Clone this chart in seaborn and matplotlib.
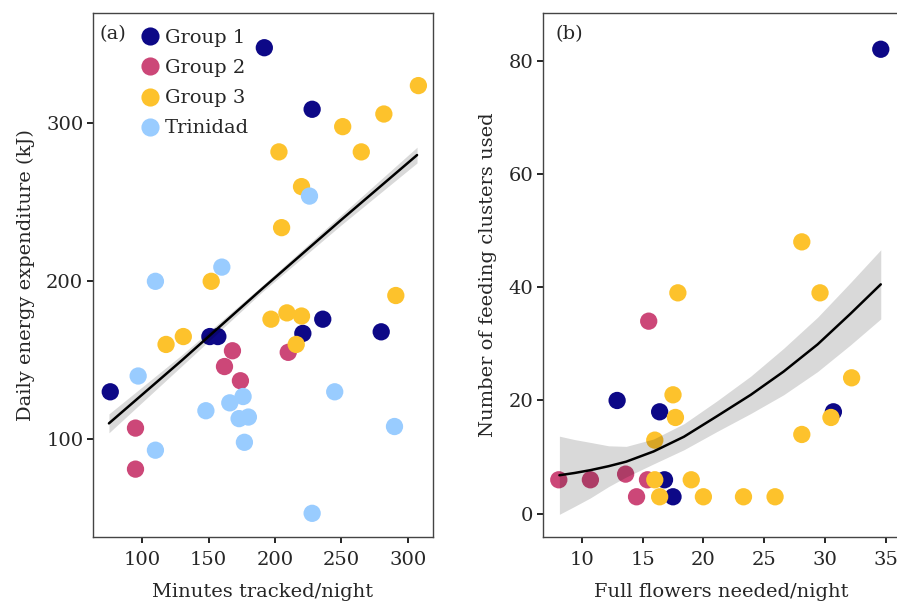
import numpy as np
import pandas as pd
import matplotlib
matplotlib.use("Agg")
import matplotlib.pyplot as plt
import seaborn as sns

sns.set_theme(style="ticks")
plt.rcParams["font.family"] = ["DejaVu Serif"]

groups = ["Group 1", "Group 2", "Group 3", "Trinidad"]
colors = {"Group 1": "#0d0887", "Group 2": "#cc4778",
          "Group 3": "#fdc22c", "Trinidad": "#99ccff"}

# Panel (a): minutes tracked/night vs daily energy expenditure (kJ)
a_g1_x = [76, 192, 228, 151, 157, 236, 221, 280]
a_g1_y = [130, 348, 309, 165, 165, 176, 167, 168]
a_g2_x = [95, 95, 168, 162, 174, 210]
a_g2_y = [107, 81, 156, 146, 137, 155]
a_g3_x = [308, 282, 251, 203, 265, 220, 205, 152, 291, 118, 131, 197, 209, 220, 216]
a_g3_y = [324, 306, 298, 282, 282, 260, 234, 200, 191, 160, 165, 176, 180, 178, 160]
a_tr_x = [110, 160, 226, 97, 148, 166, 176, 173, 180, 177, 110, 245, 290, 228]
a_tr_y = [200, 209, 254, 140, 118, 123, 127, 113, 114, 98, 93, 130, 108, 53]

# Panel (a) fitted model line and 95% band
fit_a_x = [75, 130, 190, 250, 307]
fit_a_y = [110, 150, 195, 239, 280]
fit_a_lo = [104, 146.5, 193, 235.8, 275]
fit_a_hi = [116, 153.5, 197, 242.2, 285]

# Panel (b): full flowers needed/night vs number of feeding clusters used
b_g1_x = [34.6, 12.9, 16.4, 30.7, 16.8, 17.5]
b_g1_y = [82, 20, 18, 18, 6, 3]
b_g2_x = [8.1, 10.7, 13.6, 15.5, 14.5, 15.4]
b_g2_y = [6, 6, 7, 34, 3, 6]
b_g3_x = [17.9, 29.6, 28.1, 32.2, 17.5, 17.7, 30.5, 28.1, 16.0, 16.0, 19.0, 16.4, 20.0, 23.3, 25.9]
b_g3_y = [39, 39, 48, 24, 21, 17, 17, 14, 13, 6, 6, 3, 3, 3, 3]

# Panel (b) fitted model curve and 95% band
fit_b_x = [8.15, 9.4, 10.7, 12.2, 13.65, 15.9, 18.4, 21.1, 23.9, 26.6, 29.4, 32.1, 34.6]
fit_b_y = [6.8, 7.2, 7.7, 8.4, 9.2, 11.0, 13.6, 17.2, 21.0, 25.1, 29.9, 35.3, 40.5]
fit_b_hw = [6.9, 5.9, 4.9, 3.6, 2.7, 2.2, 2.3, 2.7, 3.3, 4.1, 4.8, 5.5, 6.1]

def frame(parts):
    rows = []
    for g, xs, ys in parts:
        for x, y in zip(xs, ys):
            rows.append({"group": g, "x": x, "y": y})
    return pd.DataFrame(rows)

da = frame([("Group 1", a_g1_x, a_g1_y), ("Group 2", a_g2_x, a_g2_y),
            ("Group 3", a_g3_x, a_g3_y), ("Trinidad", a_tr_x, a_tr_y)])
db = frame([("Group 1", b_g1_x, b_g1_y), ("Group 2", b_g2_x, b_g2_y),
            ("Group 3", b_g3_x, b_g3_y)])
fa = pd.DataFrame({"x": fit_a_x, "y": fit_a_y, "lo": fit_a_lo, "hi": fit_a_hi})
fb = pd.DataFrame({"x": fit_b_x, "y": fit_b_y})
fb["lo"] = fb["y"] - np.array(fit_b_hw)
fb["hi"] = fb["y"] + np.array(fit_b_hw)

fig = plt.figure(figsize=(8.97, 6.02), dpi=100)
W, H = 897, 602
ax1 = fig.add_axes([93 / W, (H - 537) / H, 340 / W, 524 / H])
ax2 = fig.add_axes([543 / W, (H - 537) / H, 356 / W, 524 / H])

FS = 14
ms = 155

# (a)
sns.scatterplot(data=da, x="x", y="y", hue="group", hue_order=groups,
                palette=colors, s=ms, linewidth=0, ax=ax1, zorder=1)
ax1.fill_between(fa["x"], fa["lo"], fa["hi"], color="black", alpha=0.15,
                 linewidth=0, zorder=2)
sns.lineplot(data=fa, x="x", y="y", ax=ax1, color="black", linewidth=1.8,
             zorder=3)
ax1.set_xlim(63, 319)
ax1.set_ylim(38, 370)
ax1.set_xticks([100, 150, 200, 250, 300])
ax1.set_yticks([100, 200, 300])
ax1.set_xlabel("Minutes tracked/night", fontsize=FS, labelpad=10)
ax1.set_ylabel("Daily energy expenditure (kJ)", fontsize=FS, labelpad=8)
ax1.text(0.02, 0.977, "(a)", transform=ax1.transAxes, fontsize=FS,
         ha="left", va="top")
handles, labels = ax1.get_legend_handles_labels()
leg = ax1.legend(handles, labels, loc="upper left", bbox_to_anchor=(0.1, 0.995),
                 frameon=False, fontsize=FS, handletextpad=0.25,
                 handlelength=1.0, labelspacing=0.62, borderaxespad=0.3,
                 markerscale=1.05)

# (b)
sns.scatterplot(data=db, x="x", y="y", hue="group",
                hue_order=["Group 1", "Group 2", "Group 3"],
                palette=colors, s=ms, linewidth=0, ax=ax2, legend=False, zorder=1)
ax2.fill_between(fb["x"], fb["lo"], fb["hi"], color="black", alpha=0.15,
                 linewidth=0, zorder=2)
sns.lineplot(data=fb, x="x", y="y", ax=ax2, color="black", linewidth=1.8,
             zorder=3)
ax2.set_xlim(6.8, 36.1)
ax2.set_ylim(-4.1, 88.4)
ax2.set_xticks([10, 15, 20, 25, 30, 35])
ax2.set_yticks([0, 20, 40, 60, 80])
ax2.set_xlabel("Full flowers needed/night", fontsize=FS, labelpad=10)
ax2.set_ylabel("Number of feeding clusters used", fontsize=FS, labelpad=8)
ax2.text(0.035, 0.977, "(b)", transform=ax2.transAxes, fontsize=FS,
         ha="left", va="top")

for ax in (ax1, ax2):
    ax.tick_params(direction="out", length=4, width=1.2, labelsize=FS,
                   color="black")
    ax.tick_params(axis="x", pad=6)
    ax.tick_params(axis="y", pad=3)
    for sp in ax.spines.values():
        sp.set_visible(True)
        sp.set_linewidth(1.0)
        sp.set_color("#444444")

fig.savefig("out.png", dpi=100)
